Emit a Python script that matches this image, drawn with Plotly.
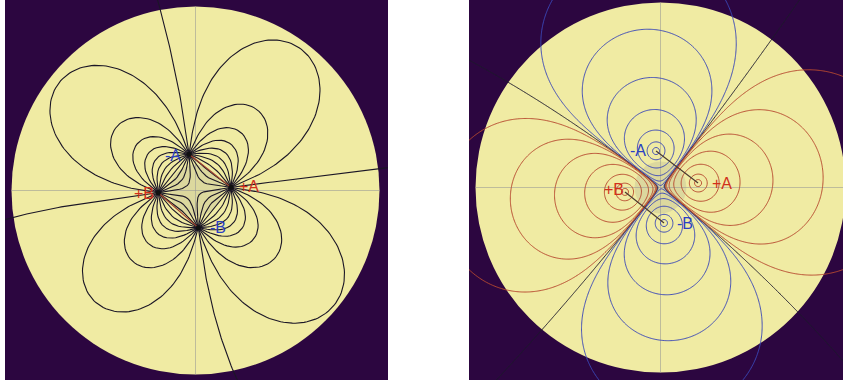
import numpy as np
import plotly.graph_objects as go

# ---------------- data (disk radius = 1) ----------------
charge_labels = ["-A", "+A", "+B", "-B"]
charge_signs = [-1, 1, 1, -1]
label_colors = ["#2b3fc4", "#d0301c", "#d0301c", "#2b3fc4"]

left_charge_x = [-0.035, 0.193, -0.202, 0.015]
left_charge_y = [0.197, 0.017, -0.012, -0.202]
left_label_x = [-0.12, 0.29, -0.28, 0.12]
left_label_y = [0.19, 0.02, -0.015, -0.20]

right_charge_x = [-0.024, 0.203, -0.192, 0.019]
right_charge_y = [0.197, 0.024, -0.024, -0.192]
right_label_x = [-0.12, 0.33, -0.25, 0.13]
right_label_y = [0.198, 0.02, -0.01, -0.197]

# pairs joined by a segment (index into the charge lists)
pairs = [(0, 1), (2, 3)]

field_lines_per_charge = 24
potential_eps = 0.0444
potential_levels = 7

DARK = "#2c0640"
DISK = "#f0eba3"

# ---------------- left: field lines of the charges (Coulomb field) ----------------
CX = np.array(left_charge_x)
CY = np.array(left_charge_y)
Q = np.array(charge_signs, dtype=float)


def direction(px, py):
    dx = px[:, None] - CX[None, :]
    dy = py[:, None] - CY[None, :]
    r3 = (dx * dx + dy * dy) ** 1.5 + 1e-12
    ex = (Q[None, :] * dx / r3).sum(1)
    ey = (Q[None, :] * dy / r3).sum(1)
    n = np.hypot(ex, ey) + 1e-15
    return ex / n, ey / n


def trace_lines(src_sign):
    idx = [k for k in range(len(Q)) if Q[k] == src_sign]
    ang = (np.arange(field_lines_per_charge) + 0.5) * 2 * np.pi / field_lines_per_charge
    sx, sy = [], []
    for k in idx:
        sx.append(CX[k] + 0.004 * np.cos(ang))
        sy.append(CY[k] + 0.004 * np.sin(ang))
    px = np.concatenate(sx)
    py = np.concatenate(sy)
    m = len(px)
    active = np.ones(m, bool)
    hit = np.zeros(m, bool)
    xs_hist, ys_hist = [px.copy()], [py.copy()]
    sgn = float(src_sign)
    targets = np.where(Q == -src_sign)[0]
    for _ in range(5000):
        if not active.any():
            break
        dmin = np.min(np.hypot(px[:, None] - CX[None, :], py[:, None] - CY[None, :]), axis=1)
        ds = np.clip(0.25 * dmin, 0.001, 0.008) * sgn
        k1x, k1y = direction(px, py)
        k2x, k2y = direction(px + 0.5 * ds * k1x, py + 0.5 * ds * k1y)
        k3x, k3y = direction(px + 0.5 * ds * k2x, py + 0.5 * ds * k2y)
        k4x, k4y = direction(px + ds * k3x, py + ds * k3y)
        nx = px + ds * (k1x + 2 * k2x + 2 * k3x + k4x) / 6
        ny = py + ds * (k1y + 2 * k2y + 2 * k3y + k4y) / 6
        px = np.where(active, nx, px)
        py = np.where(active, ny, py)
        for t in targets:
            close = active & (np.hypot(px - CX[t], py - CY[t]) < 0.005)
            px = np.where(close, CX[t], px)
            py = np.where(close, CY[t], py)
            hit |= close
            active &= ~close
        out = active & (px * px + py * py > 1.5 ** 2)
        active &= ~out
        xs_hist.append(px.copy())
        ys_hist.append(py.copy())
    return np.array(xs_hist), np.array(ys_hist), hit


lx_all, ly_all = [], []
for sign in (1, -1):
    XH, YH, hit = trace_lines(sign)
    for j in range(XH.shape[1]):
        if sign == -1 and hit[j]:
            continue  # already drawn from the positive end
        col_x = XH[:, j]
        col_y = YH[:, j]
        keep = np.ones(len(col_x), bool)
        keep[1:] = (np.diff(col_x) != 0) | (np.diff(col_y) != 0)
        cx_, cy_ = col_x[keep], col_y[keep]
        lx_all.extend(np.round(cx_[::2], 4).tolist() + [round(float(cx_[-1]), 4), None])
        ly_all.extend(np.round(cy_[::2], 4).tolist() + [round(float(cy_[-1]), 4), None])

# ---------------- right: potential of the charges ----------------
N = 451
g = np.linspace(-1.07, 1.07, N)
GX, GY = np.meshgrid(g, g)
phi = np.zeros_like(GX)
for q, cx, cy in zip(charge_signs, right_charge_x, right_charge_y):
    phi += q / (np.hypot(GX - cx, GY - cy) + 1e-6)
s = np.log(3)
h = np.clip(np.arcsinh(phi / potential_eps), -9, 9)
h = np.round(h, 4)

fig = go.Figure()

fig.add_trace(go.Scatter(
    x=lx_all, y=ly_all, mode="lines", xaxis="x", yaxis="y",
    line=dict(color="#1b1626", width=1.1), hoverinfo="skip", showlegend=False,
))

fig.add_trace(go.Contour(
    x=g, y=g, z=h, xaxis="x2", yaxis="y2",
    contours=dict(coloring="lines", start=-potential_levels * s,
                  end=potential_levels * s, size=s),
    zmin=-potential_levels * s, zmax=potential_levels * s, zauto=False,
    colorscale=[[0, "#3b48b8"], [0.47, "#3b48b8"], [0.5, "#1d1a2c"],
                [0.53, "#b84a30"], [1, "#b84a30"]],
    showscale=False, line=dict(width=1.0, smoothing=1.0), hoverinfo="skip",
))

for (xa, ya, col, xr, yr) in [("x", "y", "#a0402c", left_charge_x, left_charge_y),
                              ("x2", "y2", "#4a3a30", right_charge_x, right_charge_y)]:
    for i, j in pairs:
        fig.add_trace(go.Scatter(x=[xr[i], xr[j]], y=[yr[i], yr[j]], mode="lines",
                                 line=dict(color=col, width=1.2), xaxis=xa, yaxis=ya,
                                 hoverinfo="skip", showlegend=False))

fig.add_trace(go.Scatter(x=left_charge_x, y=left_charge_y, mode="markers",
                         marker=dict(color="#111", size=5), xaxis="x", yaxis="y",
                         hoverinfo="skip", showlegend=False))

shapes = []
for xa, ya in [("x", "y"), ("x2", "y2")]:
    shapes.append(dict(type="circle", xref=xa, yref=ya, x0=-1, x1=1, y0=-1, y1=1,
                       fillcolor=DISK, line=dict(width=0), layer="below"))
    shapes.append(dict(type="circle", xref=xa, yref=ya, x0=-0.14, x1=0.14, y0=-0.14, y1=0.14,
                       fillcolor="rgba(150,150,140,0.22)", line=dict(width=0), layer="below"))
    shapes.append(dict(type="line", xref=xa, yref=ya, x0=-1, x1=1, y0=0, y1=0,
                       line=dict(color="rgba(150,150,150,0.55)", width=1), layer="below"))
    shapes.append(dict(type="line", xref=xa, yref=ya, x0=0, x1=0, y0=-1, y1=1,
                       line=dict(color="rgba(150,150,150,0.55)", width=1), layer="below"))

annotations = []
for xa, ya, lx, ly in [("x", "y", left_label_x, left_label_y),
                       ("x2", "y2", right_label_x, right_label_y)]:
    for t, c, x, y in zip(charge_labels, label_colors, lx, ly):
        annotations.append(dict(x=x, y=y, xref=xa, yref=ya, text=t, showarrow=False,
                                font=dict(family="Liberation Sans, Arial", size=16, color=c)))

W, H = 843, 383
ax = dict(showgrid=False, zeroline=False, showticklabels=False, ticks="", showline=False)
fig.update_layout(
    width=W, height=H, margin=dict(l=0, r=0, t=0, b=0),
    paper_bgcolor="white", plot_bgcolor=DARK, showlegend=False,
    xaxis=dict(domain=[5 / W, 388 / W], range=[(5 - 195.5) / 184, (388 - 195.5) / 184], **ax),
    yaxis=dict(domain=[3 / H, 1], range=[(190.5 - 380) / 184, 190.5 / 184], **ax),
    xaxis2=dict(domain=[469 / W, 1], range=[(469 - 660.5) / 185, (843 - 660.5) / 185], **ax),
    yaxis2=dict(domain=[3 / H, 1], range=[(187.5 - 380) / 185, 187.5 / 185], **ax),
    shapes=shapes, annotations=annotations,
)

fig.write_html("out.html", config={"displayModeBar": False},
               post_script="document.body.style.margin='0';document.body.style.overflow='hidden';")
